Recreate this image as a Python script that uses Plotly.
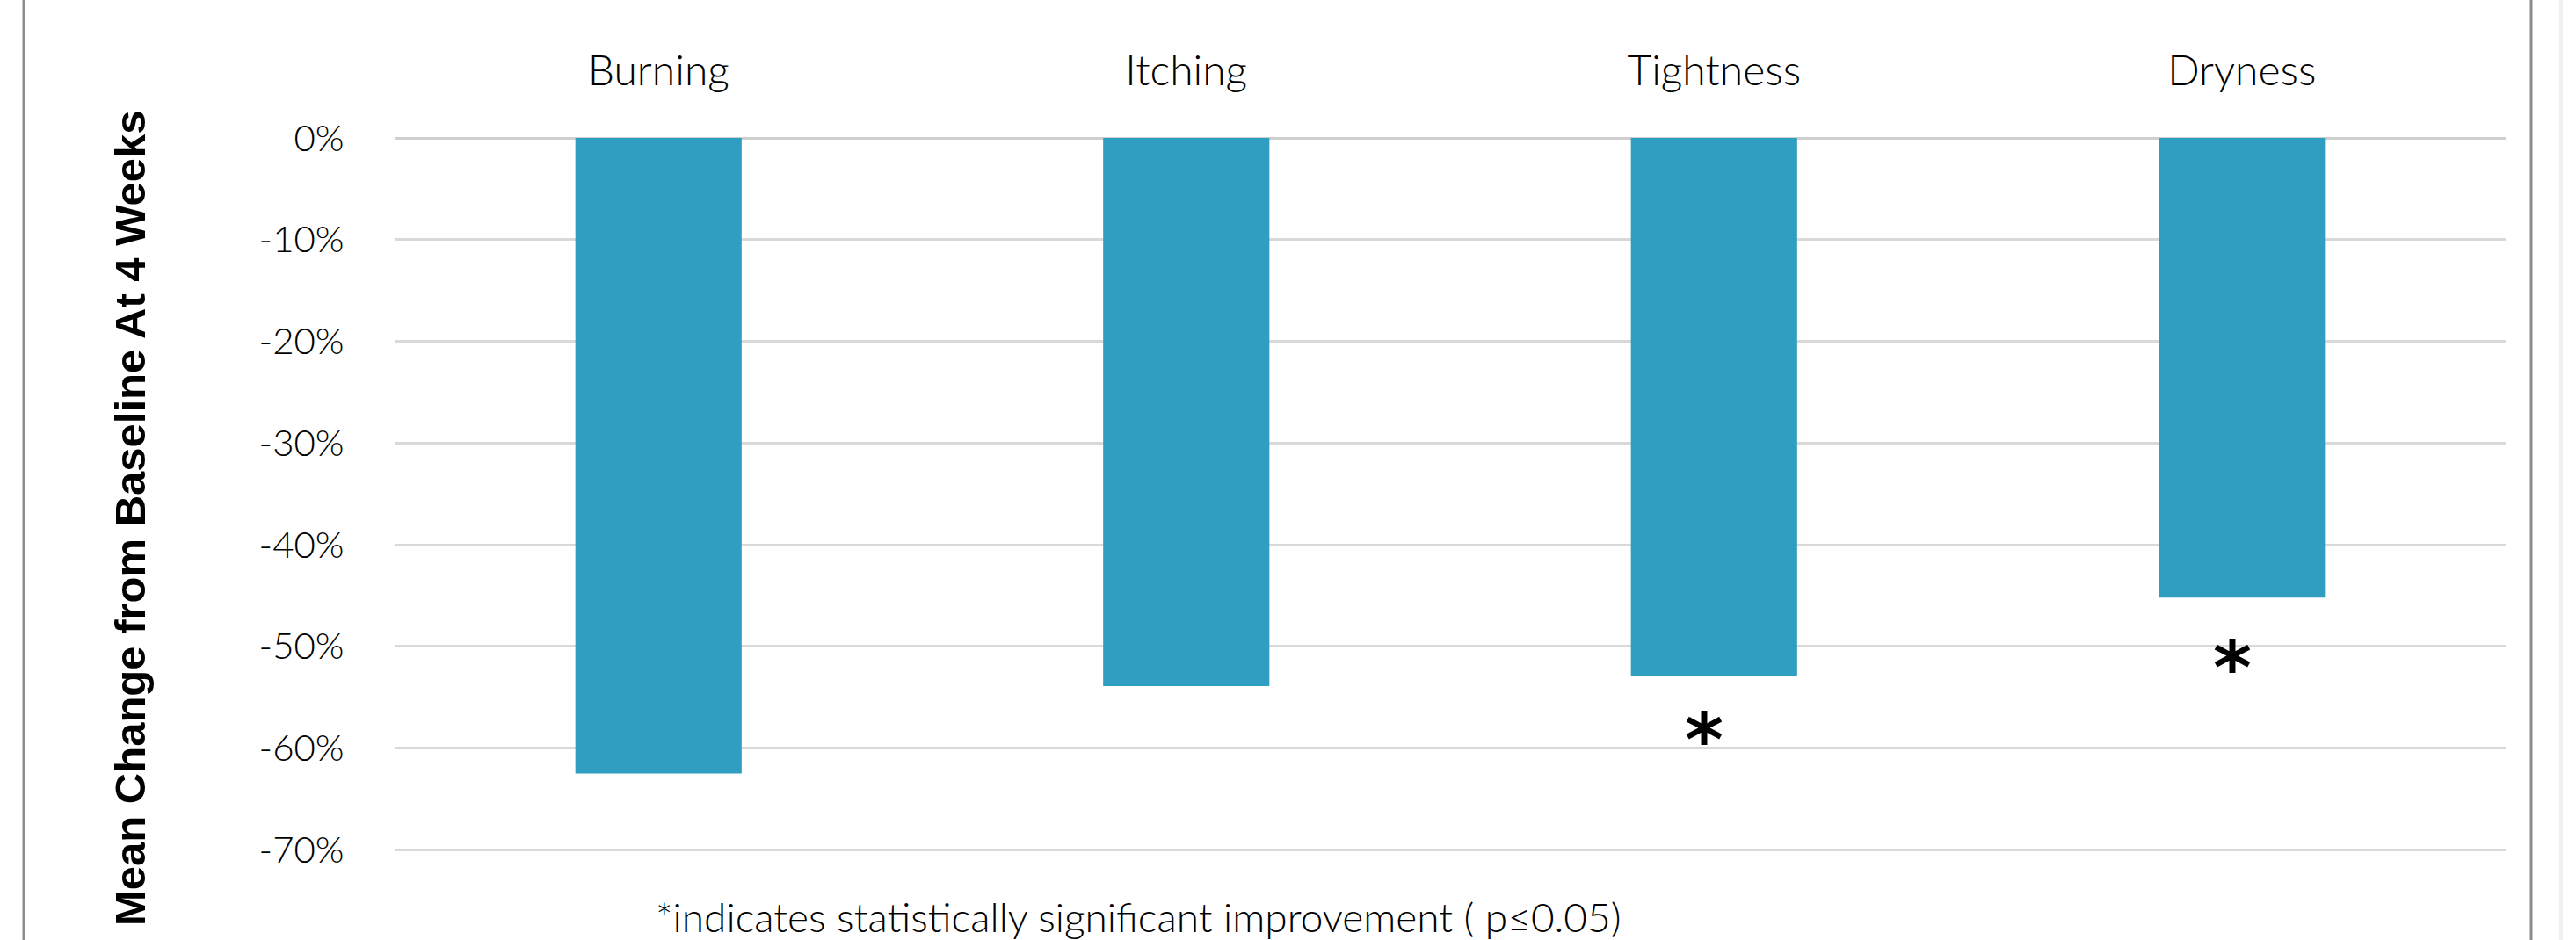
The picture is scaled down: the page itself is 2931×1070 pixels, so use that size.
import plotly.graph_objects as go

# Mean change from baseline at 4 weeks, per symptom
categories = ["Burning", "Itching", "Tightness", "Dryness"]
mean_change = [-0.625, -0.539, -0.529, -0.452]
significant = [False, False, True, True]

tick_values = [0, -0.1, -0.2, -0.3, -0.4, -0.5, -0.6, -0.7]
tick_labels = ["0%", "-10%", "-20%", "-30%", "-40%", "-50%", "-60%", "-70%"]

footnote = "*indicates statistically significant improvement ( p\u22640.05)"
y_title = "Mean Change from Baseline At 4 Weeks"

BAR_COLOR = "#2F9EC0"
GRID_COLOR = "#D9D9D9"
W, H = 2931, 1070
M_L, M_R, M_T, M_B = 449, 80, 157, 101
plot_w = W - M_L - M_R
plot_h = H - M_T - M_B


def px_x(px):
    return (px - M_L) / plot_w


def px_y(py):
    return (H - M_B - py) / plot_h


fig = go.Figure()
fig.add_trace(go.Bar(
    x=categories,
    y=mean_change,
    width=0.315,
    marker=dict(color=BAR_COLOR, line=dict(width=0)),
    hoverinfo="x+y",
))

# Significance markers below the bars
star_shift = {"Tightness": -73, "Dryness": -80}
for cat, val, sig in zip(categories, mean_change, significant):
    if sig:
        fig.add_annotation(
            x=cat, y=val, xref="x", yref="y",
            text="<b>*</b>", showarrow=False,
            yanchor="middle", xanchor="center",
            yshift=star_shift.get(cat, -70), xshift=-11,
            font=dict(family="DejaVu Sans", size=84, color="#000000"),
        )

fig.add_annotation(
    x=px_x(148), y=px_y(590), xref="paper", yref="paper",
    text="<b>" + y_title + "</b>", textangle=-90, showarrow=False,
    xanchor="center", yanchor="middle",
    font=dict(family="Liberation Sans", size=49, color="#000000"),
)

fig.add_annotation(
    x=px_x(744), y=px_y(1043), xref="paper", yref="paper",
    text=footnote, showarrow=False, xanchor="left", yanchor="middle",
    font=dict(family="Lato", size=46, color="#000000", weight=300),
)

# Outer frame lines
frame = [(27, "#8C8C8C", 3), (2880, "#8C8C8C", 3), (2914, "#F0F0F0", 4)]
for xpx, col, wd in frame:
    fig.add_shape(
        type="line", xref="paper", yref="paper",
        x0=px_x(xpx), x1=px_x(xpx), y0=px_y(H + 5), y1=px_y(-5),
        line=dict(color=col, width=wd), layer="above",
    )

fig.update_layout(
    width=W, height=H,
    margin=dict(l=M_L, r=M_R, t=M_T, b=M_B, pad=0),
    paper_bgcolor="#FFFFFF", plot_bgcolor="#FFFFFF",
    showlegend=False,
    xaxis=dict(
        side="top", type="category", range=[-0.5, 3.5],
        showgrid=False, showline=False, zeroline=False,
        ticks="outside", ticklen=40, tickcolor="rgba(0,0,0,0)",
        tickfont=dict(family="Lato", size=48, color="#000000", weight=300),
    ),
    yaxis=dict(
        range=[-0.7015, 0], tickvals=tick_values, ticktext=tick_labels,
        showgrid=True, gridcolor=GRID_COLOR, gridwidth=3,
        zeroline=True, zerolinecolor="#CFCFCF", zerolinewidth=3,
        showline=False,
        ticks="outside", ticklen=48, tickcolor="rgba(0,0,0,0)",
        tickfont=dict(family="Lato", size=42, color="#000000", weight=300),
    ),
)

fig.write_html("out.html")
